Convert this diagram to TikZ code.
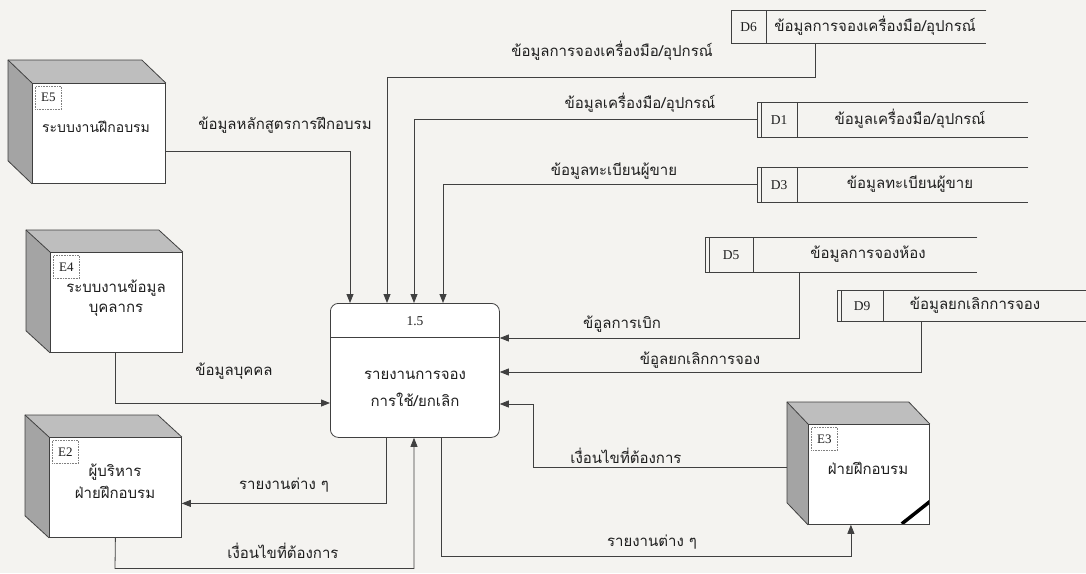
\documentclass[tikz,border=0pt]{standalone}
\usepackage{fontspec}
\setmainfont{Liberation Serif}
\newfontfamily\thaifont[Script=Thai]{Loma}
\usetikzlibrary{arrows.meta,calc}
\definecolor{paper}{HTML}{F4F3F0}
\definecolor{ink}{HTML}{404040}
\definecolor{txt}{HTML}{1E1E1E}
\definecolor{sidegray}{HTML}{A4A4A4}
\definecolor{topgray}{HTML}{BEBEBE}
\newcommand\entfaces[3]{%
  \fill[sidegray] (#1.north west) -- ++(#2,#3) -- ($(#1.south west)+(#2,#3)$) -- (#1.south west) -- cycle;
  \fill[topgray] (#1.north west) -- ++(#2,#3) -- ($(#1.north east)+(#2,#3)$) -- (#1.north east) -- cycle;
  \draw[inkline] (#1.south west) -- ++(#2,#3) -- ($(#1.north west)+(#2,#3)$) -- ($(#1.north east)+(#2,#3)$) -- (#1.north east);
  \draw[inkline] (#1.north west) -- ++(#2,#3);
  \draw[inkline] (#1.north west) rectangle (#1.south east);
}
\newcommand\dstore[3]{%
  \draw[inkline] (#1.north east) -- (#1.north west) -- (#1.south west) -- (#1.south east);
  \draw[inkline] ([xshift=#2pt]#1.north west) -- ([xshift=#2pt]#1.south west);
  \ifnum#3=1 \draw[inkline] ([xshift=4pt]#1.north west) -- ([xshift=4pt]#1.south west);\fi
}
\begin{document}
\begin{tikzpicture}[x=1pt,y=-1pt,
  inkline/.style={draw=ink, line width=0.8pt},
  flow/.style={draw=ink, line width=0.8pt, -{Triangle[length=9pt,width=7pt]}},
  thai/.style={font=\thaifont\fontsize{15}{20}\selectfont, text=txt, inner sep=1pt, align=center},
  latin/.style={font=\fontsize{13.5}{15}\selectfont, text=txt, inner sep=1pt},
  entbox/.style={draw=ink, line width=0.8pt, fill=white, minimum height=100pt, inner sep=0pt, anchor=north west},
  elabel/.style={draw=gray, densely dotted, line width=0.6pt, minimum width=26pt, minimum height=23pt, inner sep=0pt, anchor=north west, font=\fontsize{13}{15}\selectfont, text=txt},
  storebox/.style={inner sep=0pt, anchor=north west}
]
\useasboundingbox (0,0) rectangle (1086,573);
\fill[paper] (0,0) rectangle (1086,573);

% ---------- external entities ----------
\node[entbox, minimum width=133pt] (e5) at (32,83) {};
\entfaces{e5}{-24}{-23}
\node[entbox, minimum width=132pt] (e4) at (50,252) {};
\entfaces{e4}{-24}{-22}
\node[entbox, minimum width=132pt] (e2) at (49,437) {};
\entfaces{e2}{-24}{-22}
\node[entbox, minimum width=121pt] (e3) at (808,424) {};
\entfaces{e3}{-21}{-22}
\begin{scope}
  \clip (e3.north west) rectangle (e3.south east);
  \draw[black, line width=3.5pt] ([xshift=-28pt,yshift=1pt]e3.south east) -- ([xshift=1pt,yshift=24pt]e3.south east);
\end{scope}
\draw[inkline] (e3.north west) rectangle (e3.south east);

\node[elabel] (e5id) at ([xshift=3pt,yshift=-3pt]e5.north west) {E5};
\node[elabel] (e4id) at ([xshift=3pt,yshift=-3pt]e4.north west) {E4};
\node[elabel] (e2id) at ([xshift=3pt,yshift=-3pt]e2.north west) {E2};
\node[elabel] (e3id) at ([xshift=3pt,yshift=-3pt]e3.north west) {E3};

\node[thai, font=\thaifont\fontsize{14}{20}\selectfont] (e5t) at (96,127) {ระบบงานฝึกอบรม};
\node[thai] (e4t) at (116,298) {ระบบงานข้อมูล\\บุคลากร};
\node[thai, font=\thaifont\fontsize{15}{22}\selectfont] (e2t) at (115,481) {ผู้บริหาร\\ฝ่ายฝึกอบรม};
\node[thai] (e3t) at (868,468) {ฝ่ายฝึกอบรม};

% ---------- process ----------
\node[draw=ink, line width=0.8pt, fill=white, rounded corners=8pt, minimum width=169pt, minimum height=134pt, inner sep=0pt, anchor=north west] (proc) at (330,303) {};
\draw[inkline] ([yshift=-34pt]proc.north west) -- ([yshift=-34pt]proc.north east);
\node[latin] (pid) at (415,321) {1.5};
\node[thai, font=\thaifont\fontsize{15}{27}\selectfont] (pname) at (415,389) {รายงานการจอง\\การใช้/ยกเลิก};

% ---------- data stores ----------
\node[storebox, minimum width=255pt, minimum height=33pt] (d6) at (731,10) {};
\dstore{d6}{35}{0}
\node[storebox, minimum width=271pt, minimum height=35pt] (d1) at (757,102) {};
\dstore{d1}{40}{1}
\node[storebox, minimum width=271pt, minimum height=35pt] (d3) at (757,167) {};
\dstore{d3}{40}{1}
\node[storebox, minimum width=272pt, minimum height=35pt] (d5) at (705,237) {};
\dstore{d5}{48}{1}
\node[storebox, minimum width=249pt, minimum height=31pt] (d9) at (837,290) {};
\dstore{d9}{46}{1}

\node[latin] (d6id) at (748.5,27) {D6};
\node[thai] (d6t) at (875,26) {ข้อมูลการจองเครื่องมือ/อุปกรณ์};
\node[latin] (d1id) at (779,120) {D1};
\node[thai] (d1t) at (910,119) {ข้อมูลเครื่องมือ/อุปกรณ์};
\node[latin] (d3id) at (779,185) {D3};
\node[thai] (d3t) at (910,184) {ข้อมูลทะเบียนผู้ขาย};
\node[latin] (d5id) at (731,255) {D5};
\node[thai] (d5t) at (868,254) {ข้อมูลการจองห้อง};
\node[latin] (d9id) at (862,306) {D9};
\node[thai] (d9t) at (975,305) {ข้อมูลยกเลิกการจอง};

% ---------- flows ----------
\draw[flow] ([yshift=-18pt]e5.east) -| ([xshift=20pt]proc.north west);
\draw[flow] ([xshift=84pt]d6.south west) -- (815,77) -| ([xshift=57pt]proc.north west);
\draw[flow] (d1.west) -| ([xshift=84pt]proc.north west);
\draw[flow] (d3.west) -| ([xshift=113pt]proc.north west);
\draw[flow] ([xshift=94pt]d5.south west) |- ([yshift=-35pt]proc.north east);
\draw[flow] ([xshift=84pt]d9.south west) |- ([yshift=-69pt]proc.north east);
\draw[flow] ([xshift=-1pt]e4.south) |- ([yshift=-100pt]proc.north west);
\draw[flow] ([xshift=56pt]proc.south west) |- ([yshift=-16pt]e2.east);
\draw[flow] (e2.south) -- (115,568.5) -| ([xshift=84pt]proc.south west);
\draw[flow] ([xshift=-21pt,yshift=-43pt]e3.north west) -- (533,467) |- ([yshift=-101pt]proc.north east);
\draw[flow] ([xshift=111pt]proc.south west) -- (441,556) -| ([xshift=-18pt]e3.south);

% ---------- flow labels ----------
\node[thai] (l1) at (285,125) {ข้อมูลหลักสูตรการฝึกอบรม};
\node[thai] (l2) at (612,51) {ข้อมูลการจองเครื่องมือ/อุปกรณ์};
\node[thai] (l3) at (640,103) {ข้อมูลเครื่องมือ/อุปกรณ์};
\node[thai] (l4) at (614,171) {ข้อมูลทะเบียนผู้ขาย};
\node[thai] (l5) at (622,324) {ข้อูลการเบิก};
\node[thai] (l6) at (700,360) {ข้อูลยกเลิกการจอง};
\node[thai] (l7) at (234,371) {ข้อมูลบุคคล};
\node[thai] (l8) at (284,485) {รายงานต่าง ๆ};
\node[thai] (l9) at (283,551) {เงื่อนไขที่ต้องการ};
\node[thai] (l10) at (626,456) {เงื่อนไขที่ต้องการ};
\node[thai] (l11) at (652,542) {รายงานต่าง ๆ};
\end{tikzpicture}
\end{document}
